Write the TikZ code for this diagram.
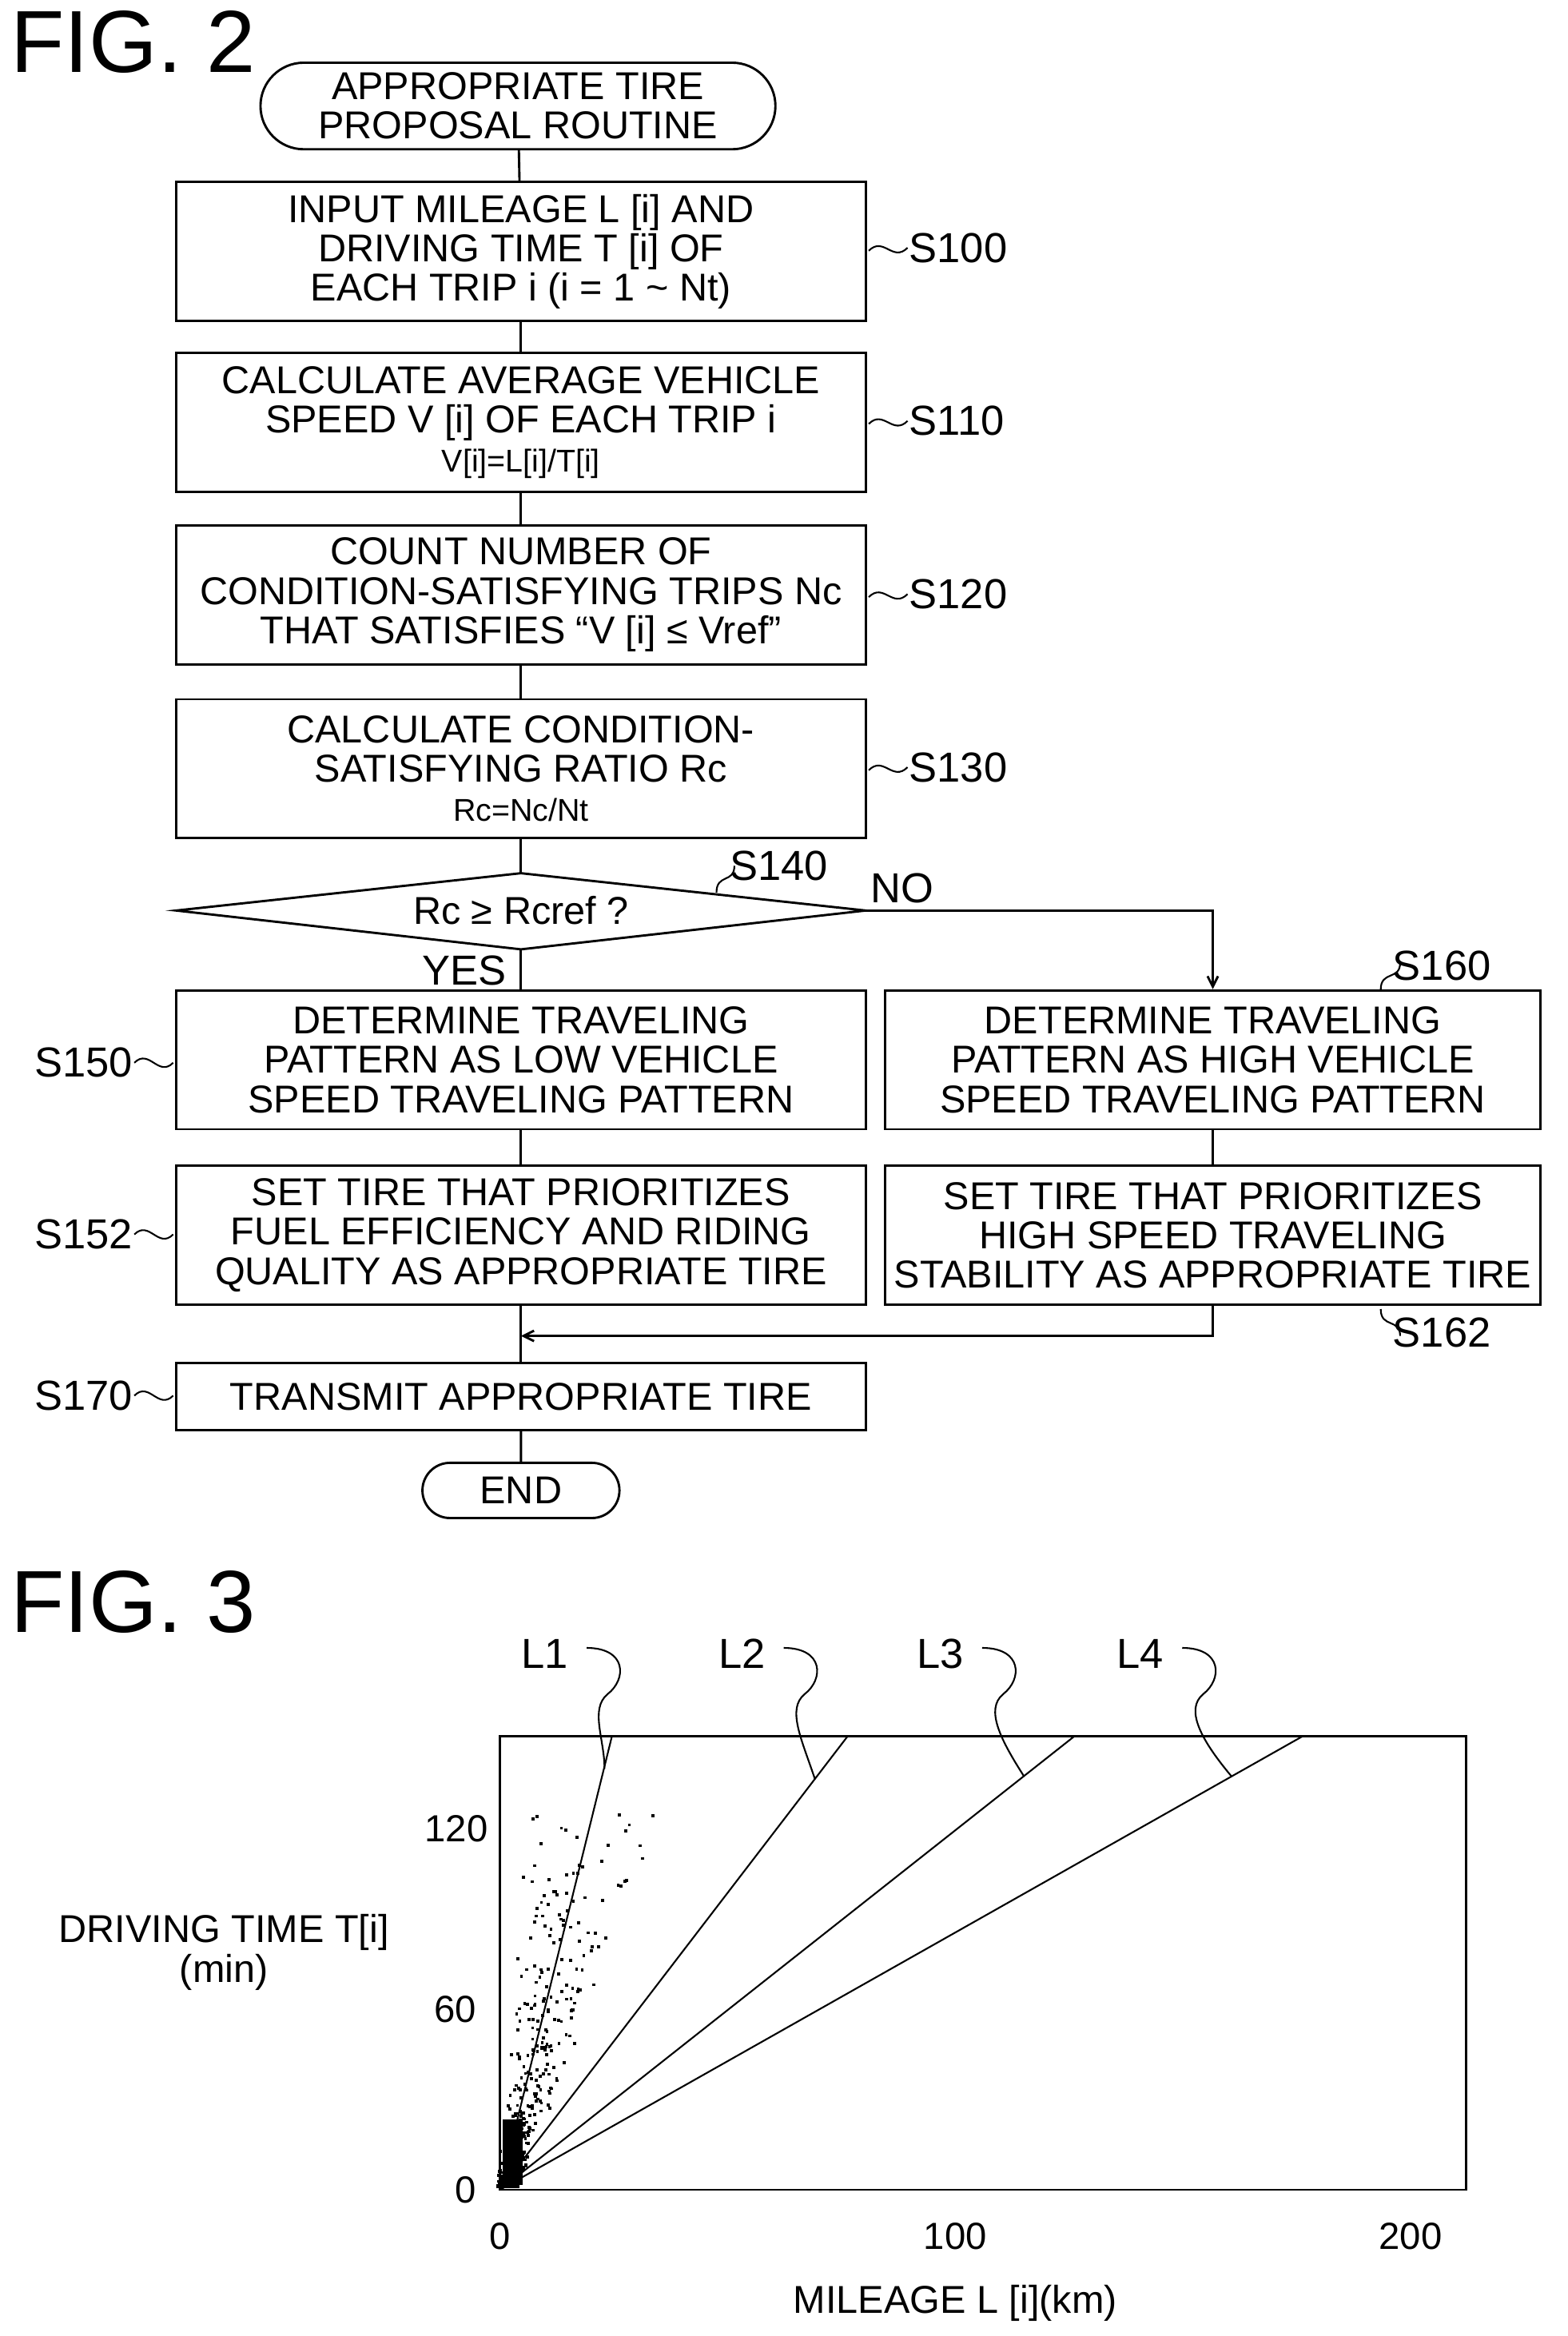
\documentclass[tikz,border=0pt]{standalone}
\usepackage{fontspec}
\setmainfont{Liberation Sans}
\usetikzlibrary{shapes.misc,arrows.meta}
\begin{document}
\begin{tikzpicture}[x=0.05cm,y=-0.05cm,line width=2.2pt,
  txt/.style={font=\fontsize{37}{37.5}\selectfont,align=center},
  box/.style={draw,txt,minimum width=23.1cm,minimum height=4.65cm,inner sep=0},
  rbox/.style={box,minimum width=21.95cm},
  pill/.style={draw,rounded rectangle,txt,inner sep=0},
  lab/.style={font=\fontsize{40}{40}\selectfont,anchor=west},
  tick/.style={font=\fontsize{36}{36}\selectfont},
  fig/.style={font=\fontsize{84}{84}\selectfont,anchor=west},
  arr/.style={-{Straight Barb[length=10pt,width=10pt]}}]
\useasboundingbox (0,0) rectangle (1050,1565);
\node[fig] (f2) at (4,28) {FIG. 2};
\node[pill,minimum width=17.25cm,minimum height=2.9cm] (st) at (347,71) {APPROPRIATE TIRE\\PROPOSAL ROUTINE};
\node[box] (s100) at (349,168.5) {INPUT MILEAGE L [i] AND\\DRIVING TIME T [i] OF\\EACH TRIP i (i = 1 \textasciitilde{} Nt)};
\node[box] (s110) at (349,283) {CALCULATE AVERAGE VEHICLE\\SPEED V [i] OF EACH TRIP i\\{\fontsize{30}{30}\selectfont V[i]=L[i]/T[i]}};
\node[box] (s120) at (349,398.5) {COUNT NUMBER OF\\CONDITION-SATISFYING TRIPS Nc\\THAT SATISFIES ``V [i] ≤ Vref''};
\node[box] (s130) at (349,515) {CALCULATE CONDITION-\\SATISFYING RATIO Rc\\{\fontsize{30}{30}\selectfont Rc=Nc/Nt}};
\coordinate (dt) at (349,585); \coordinate (db) at (349,636);
\coordinate (dl) at (118,610); \coordinate (dr) at (580,610);
\draw (dt)--(dr)--(db)--(dl)--cycle;
\node[txt] (d) at (349,610) {Rc ≥ Rcref ?};
\node[box] (s150) at (349,710) {DETERMINE TRAVELING\\PATTERN AS LOW VEHICLE\\SPEED TRAVELING PATTERN};
\node[rbox] (s160) at (812.5,710) {DETERMINE TRAVELING\\PATTERN AS HIGH VEHICLE\\SPEED TRAVELING PATTERN};
\node[box] (s152) at (349,827.5) {SET TIRE THAT PRIORITIZES\\FUEL EFFICIENCY AND RIDING\\QUALITY AS APPROPRIATE TIRE};
\node[rbox] (s162) at (812.5,827.5) {SET TIRE THAT PRIORITIZES\\HIGH SPEED TRAVELING\\STABILITY AS APPROPRIATE TIRE};
\node[box,minimum height=2.25cm] (s170) at (349,935.5) {TRANSMIT APPROPRIATE TIRE};
\node[pill,minimum width=6.6cm,minimum height=1.85cm] (end) at (349,998.5) {END};
\draw (st)--(s100); \draw (s100)--(s110); \draw (s110)--(s120); \draw (s120)--(s130);
\draw (s130.south)--(dt); \draw (db)--(s150.north);
\draw[arr] (dr)-|(s160.north);
\draw (s150)--(s152); \draw (s160)--(s162);
\draw (s152)--(s170); \draw (s170)--(end);
\coordinate (m) at (349,895);
\draw[arr] (s162.south)|-(m);
\node[lab] at (580,595) {NO};
\node[lab] at (280,650) {YES};
\foreach \y/\t in {166/S100,282/S110,398/S120,514/S130}{
  \draw[line width=1.6pt] (582,\y+2) .. controls (592,\y-8) and (598,\y+10) .. (608,\y);
  \node[lab] at (606,\y) {\t};}
\draw[line width=1.6pt] (480,598) .. controls (480,585) and (492,592) .. (492,580);
\node[lab] at (486,580) {S140};
\draw[line width=1.6pt] (925,663) .. controls (925,650) and (938,657) .. (938,645);
\node[lab] at (930,647) {S160};
\draw[line width=1.6pt] (925,877) .. controls (925,890) and (938,883) .. (938,895);
\node[lab] at (930,893) {S162};
\foreach \y/\t in {712/S150,827/S152,935/S170}{
  \draw[line width=1.6pt] (90,\y) .. controls (100,\y-10) and (106,\y+10) .. (116,\y);
  \node[lab,anchor=east] at (92,\y) {\t};}
% FIG 3
\node[fig] (f3) at (4,1073) {FIG. 3};
\node[draw,minimum width=32.35cm,minimum height=15.2cm,inner sep=0] (pl) at (658.5,1315) {};
\coordinate (o) at (335,1467);
\foreach \x/\n in {410/1,568/2,720/3,873/4}{\coordinate (t\n) at (\x,1163); \draw[line width=1.6pt] (o)--(t\n);}
\foreach \lx/\ex/\ey/\n in {365/405/1185/1,497/546/1192/2,630/686/1190/3,764/825/1190/4}{
  \node[lab,anchor=center] (L\n) at (\lx,1108) {L\n};
  \draw[line width=1.6pt] (\lx+28,1104) .. controls (\lx+55,1104) and (\lx+55,1125) .. (\lx+42,1135)
     .. controls (\lx+30,1145) and (\lx+40,1165) .. (\ex,\ey);}
\node[tick,anchor=east] at (322,1467) {0};
\node[tick,anchor=east] at (322,1346) {60};
\node[tick,anchor=east] at (330,1225) {120};
\node[tick] at (335,1498) {0};
\node[tick] at (640,1498) {100};
\node[tick] at (945,1498) {200};
\node[txt] at (150,1308) {DRIVING TIME T[i]\\(min)};
\node[txt] at (640,1543) {MILEAGE L [i](km)};
\pgfmathsetseed{7}
\foreach \i in {1,...,500}{
  \pgfmathsetmacro{\r}{rnd}
  \pgfmathsetmacro{\dy}{\r*\r*\r*250}
  \pgfmathsetmacro{\dx}{\dy*0.247*(0.3+1.4*rnd)+rnd*14-3}
  \fill (335+\dx,1466-\dy) rectangle ++(2,-2);}
\fill (337,1464) rectangle (350,1420);
\end{tikzpicture}
\end{document}
